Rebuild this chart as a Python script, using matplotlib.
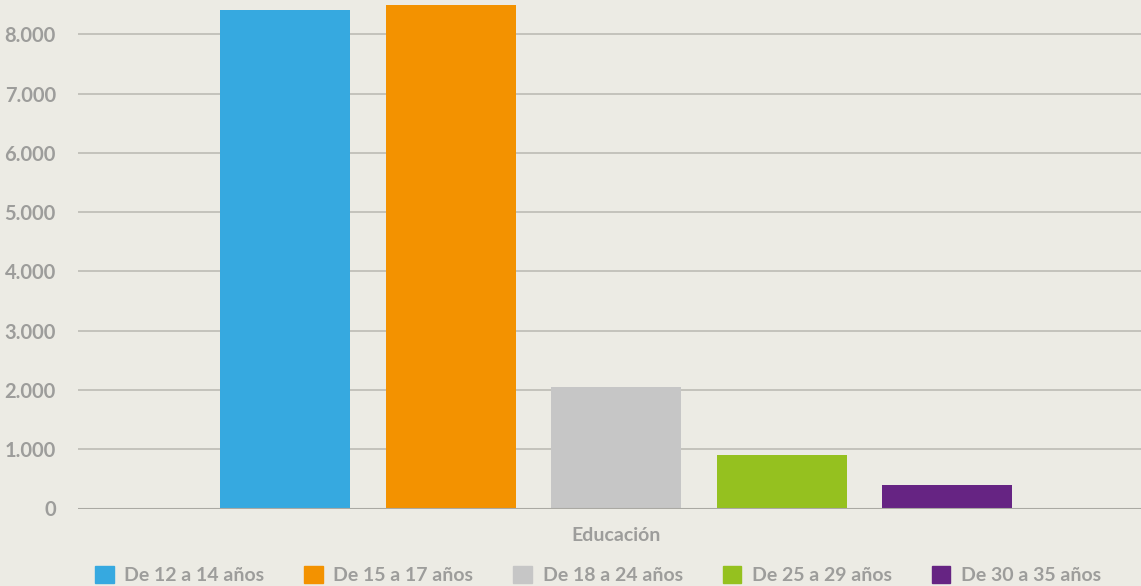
import matplotlib.pyplot as plt
from matplotlib.patches import Patch

# datos
categoria = "Educación"
grupos = ["De 12 a 14 años", "De 15 a 17 años", "De 18 a 24 años",
          "De 25 a 29 años", "De 30 a 35 años"]
valores = [8405, 8505, 2045, 895, 405]
colores = ["#36a9e0", "#f39200", "#c6c6c6", "#95c11f", "#662483"]
yticks = [0, 1000, 2000, 3000, 4000, 5000, 6000, 7000, 8000]
ytick_labels = ["0", "1.000", "2.000", "3.000", "4.000", "5.000", "6.000", "7.000", "8.000"]

fondo = "#ecebe4"
gris_texto = "#9d9d9b"
plt.rcParams['font.family'] = ['Lato', 'DejaVu Sans']

fig = plt.figure(figsize=(11.41, 5.86), dpi=100, facecolor=fondo)
ax = fig.add_axes([78/1141, 77.5/586, 1 - 78/1141, 1 - 77.5/586])
ax.set_facecolor(fondo)

x = list(range(len(grupos)))
ax.bar(x, valores, width=130/165.5, color=colores, zorder=3)

ax.set_xlim(-1.25, 5.17)
ax.set_ylim(0, 8582)
ax.set_yticks(yticks)
ax.set_yticklabels(ytick_labels)
ax.set_xticks([])
ax.yaxis.grid(True, color="#bcbbb4", linewidth=1.2, zorder=0)
ax.axhline(0, color="#aaa9a3", linewidth=1.5, zorder=4)
for s in ax.spines.values():
    s.set_visible(False)
ax.tick_params(axis="y", length=0, pad=16, labelsize=14.5, labelcolor=gris_texto)
for lbl in ax.get_yticklabels():
    lbl.set_fontweight("bold")

ax.text(2, -450, categoria, ha="center", va="center", fontsize=14,
        fontweight="bold", color=gris_texto)

handles = [Patch(facecolor=c, edgecolor=c, label=g) for g, c in zip(grupos, colores)]
leg = fig.legend(handles=handles, loc="center", bbox_to_anchor=(598/1141, 1 - 575/586),
                 ncol=5, frameon=False, handlelength=0.95, handleheight=0.95,
                 handletextpad=0.55, columnspacing=2.05,
                 prop={"weight": "bold", "size": 14})
for t in leg.get_texts():
    t.set_color(gris_texto)

fig.savefig("out.png", dpi=100, facecolor=fondo)
